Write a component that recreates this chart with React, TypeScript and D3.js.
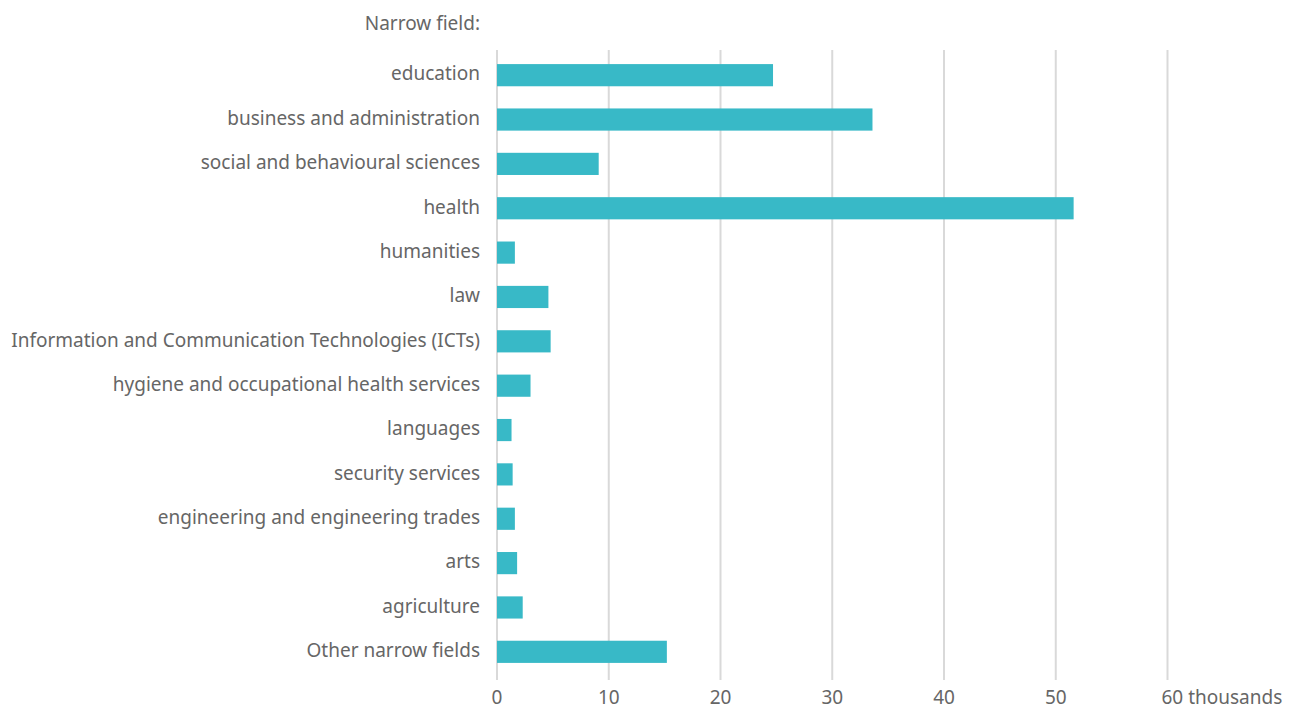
import React, { useEffect, useRef } from 'react';
import * as d3 from 'd3';

const categories = [
    'education',
    'business and administration',
    'social and behavioural sciences',
    'health',
    'humanities',
    'law',
    'Information and Communication Technologies (ICTs)',
    'hygiene and occupational health services',
    'languages',
    'security services',
    'engineering and engineering trades',
    'arts',
    'agriculture',
    'Other narrow fields',
];
const values = [24.7, 33.6, 9.1, 51.6, 1.6, 4.6, 4.8, 3.0, 1.3, 1.4, 1.6, 1.8, 2.3, 15.2];
const xTicks = [0, 10, 20, 30, 40, 50, 60];

const FONT = '"Noto Sans", sans-serif';

const App: React.FC = () => {
    const svgRef = useRef<SVGSVGElement>(null);

    useEffect(() => {
        if (!svgRef.current) return;
        const width = 1289;
        const height = 710;
        const svg = d3.select(svgRef.current);
        svg.selectAll('*').remove();

        const x = d3.scaleLinear().domain([0, 60]).range([497, 1167.5]);
        const y = d3.scaleBand<string>().domain(categories).range([53, 674]).paddingInner(0.5).paddingOuter(0.25);

        // gridlines
        svg.append('g')
            .selectAll('line')
            .data(xTicks)
            .enter()
            .append('line')
            .attr('x1', d => x(d))
            .attr('x2', d => x(d))
            .attr('y1', 50)
            .attr('y2', 680)
            .attr('stroke', '#d9d9d9')
            .attr('stroke-width', 2);

        // bars
        svg.append('g')
            .selectAll('rect')
            .data(values)
            .enter()
            .append('rect')
            .attr('x', x(0))
            .attr('y', (d, i) => y(categories[i])!)
            .attr('width', d => x(d) - x(0))
            .attr('height', y.bandwidth())
            .attr('fill', '#38b9c7');

        // category labels
        svg.append('g')
            .selectAll('text')
            .data(categories)
            .enter()
            .append('text')
            .attr('x', 480)
            .attr('y', d => y(d)! + y.bandwidth() / 2)
            .attr('dy', '0.28em')
            .attr('text-anchor', 'end')
            .attr('font-family', FONT)
            .attr('font-size', 19)
            .attr('fill', '#666')
            .text(d => d);

        svg.append('text')
            .attr('x', 480)
            .attr('y', 30)
            .attr('text-anchor', 'end')
            .attr('font-family', FONT)
            .attr('font-size', 19)
            .attr('fill', '#666')
            .text('Narrow field:');

        // x tick labels
        svg.append('g')
            .selectAll('text')
            .data(xTicks)
            .enter()
            .append('text')
            .attr('x', d => (d === 60 ? x(d) - 6 : x(d)))
            .attr('y', 704)
            .attr('text-anchor', d => (d === 60 ? 'start' : 'middle'))
            .attr('font-family', FONT)
            .attr('font-size', 19)
            .attr('fill', '#666')
            .text(d => (d === 60 ? '60 thousands' : String(d)));

        svg.attr('width', width).attr('height', height);
    }, []);

    return (
        <div style={{ position: 'absolute', left: 0, top: 0 }}>
            <svg ref={svgRef} width={1289} height={710} style={{ display: 'block' }} />
        </div>
    );
};

export default App;
